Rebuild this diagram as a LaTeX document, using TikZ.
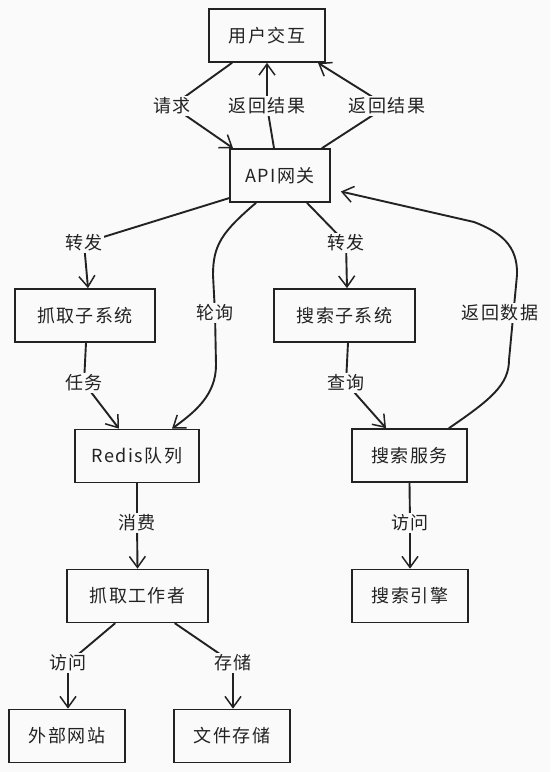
\documentclass[tikz,border=0pt]{standalone}
\usepackage{fontspec}
\setmainfont{Noto Sans CJK SC}[LetterSpace=8]
\usetikzlibrary{arrows.meta}
\definecolor{bg}{HTML}{FAFAFA}
\definecolor{ink}{HTML}{222222}
\pgfdeclarelayer{back}
\pgfdeclarelayer{edges}
\pgfsetlayers{back,edges,main}
\tikzset{
  box/.style={draw=ink, line width=1.7pt, fill=bg, minimum height=53pt, inner sep=0pt, text=ink, font=\fontsize{18}{20}\selectfont},
  lbl/.style={fill=bg, inner sep=1.5pt, text=ink, font=\fontsize{18}{20}\selectfont},
  edge/.style={draw=ink, line width=1.9pt, line cap=round, line join=round, -{Straight Barb[length=11pt,width=16pt,line width=1.5pt]}}
}
\begin{document}
\begin{tikzpicture}[x=1pt,y=-1pt]
\begin{pgfonlayer}{back}
\fill[bg] (0,0) rectangle (550,772);
\end{pgfonlayer}
\useasboundingbox (0,0) rectangle (550,772);

% boxes
\node[box, minimum width=116pt] (ui)   at (267,35.5)   {用户交互};
\node[box, minimum width=100pt] (api)  at (280,175.5)  {API网关};
\node[box, minimum width=140pt] (fs)   at (85,315.5)   {抓取子系统};
\node[box, minimum width=141pt] (ss)   at (344.5,315.5){搜索子系统};
\node[box, minimum width=124pt] (rq)   at (137,456)    {Redis队列};
\node[box, minimum width=115pt] (svc)  at (409.5,455.5){搜索服务};
\node[box, minimum width=141pt] (fw)   at (137.5,596)  {抓取工作者};
\node[box, minimum width=116pt] (eng)  at (410,596)    {搜索引擎};
\node[box, minimum width=116pt] (ext)  at (67,736)     {外部网站};
\node[box, minimum width=116pt] (file) at (232,736)    {文件存储};

% labels
\node[lbl] (l1)  at (172,106) {请求};
\node[lbl] (l2)  at (267,106) {返回结果};
\node[lbl] (l3)  at (387,106) {返回结果};
\node[lbl] (l4)  at (84,243)  {转发};
\node[lbl] (l5)  at (215,313) {轮询};
\node[lbl] (l6)  at (346,243) {转发};
\node[lbl] (l7)  at (84,383)  {任务};
\node[lbl] (l8)  at (346,383) {查询};
\node[lbl] (l9)  at (500,313) {返回数据};
\node[lbl] (l10) at (137,523) {消费};
\node[lbl] (l11) at (410,523) {访问};
\node[lbl] (l12) at (68,663)  {访问};
\node[lbl] (l13) at (233,663) {存储};

\begin{pgfonlayer}{edges}
\draw[edge] ([xshift=-35pt]ui.south) -- (l1.center) -- ([xshift=-47pt]api.north);
\draw[edge] ([xshift=-6pt]api.north) -- (l2.center) -- (ui.south);
\draw[edge] ([xshift=42pt]api.north) -- (l3.center) -- ([xshift=51pt]ui.south);
\draw[edge] ([xshift=4pt,yshift=6pt]api.south west) -- (l4.center) -- ([xshift=3pt]fs.north);
\draw[edge] ([xshift=-24pt]api.south) .. controls (222,232) and (213,245) .. (213,275)
   -- (l5.center) -- (216,365) .. controls (216,395) and (195,412) .. ([xshift=35pt]rq.north);
\draw[edge] ([xshift=27pt]api.south) -- (l6.center) -- ([xshift=2.5pt]ss.north);
\draw[edge] ([xshift=1pt]fs.south) -- (l7.center) -- ([xshift=-18pt]rq.north);
\draw[edge] ([xshift=3.5pt]ss.south) -- (l8.center) -- ([xshift=-23.5pt]svc.north);
\draw[edge] ([xshift=39.5pt]svc.north) .. controls (490,400) and (509,385) .. (509,360)
   -- (517,275) .. controls (518,245) and (500,232) .. (474,222) -- ([xshift=10pt,yshift=-16pt]api.east);
\draw[edge] (rq.south) -- (l10.center) -- (fw.north);
\draw[edge] (svc.south) -- (l11.center) -- (eng.north);
\draw[edge] ([xshift=-22.5pt]fw.south) -- (l12.center) -- ([xshift=1pt]ext.north);
\draw[edge] ([xshift=37.5pt]fw.south) -- (l13.center) -- ([xshift=1pt]file.north);
\end{pgfonlayer}
\end{tikzpicture}
\end{document}
